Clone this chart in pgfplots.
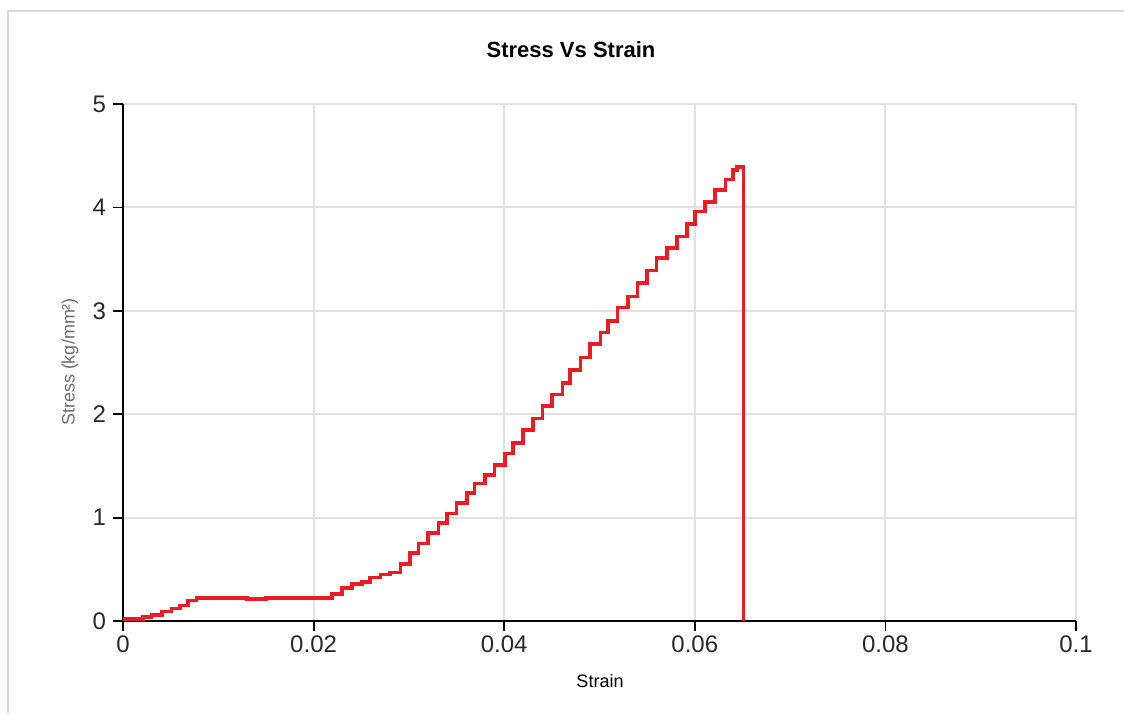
\documentclass[border=0pt]{standalone}
\usepackage{pgfplots}
\pgfplotsset{compat=1.18}
\usepackage{fontspec}
\setmainfont{Liberation Sans}
\definecolor{lineRed}{RGB}{237,28,36}
\definecolor{gridGray}{RGB}{224,224,224}
\definecolor{frameGray}{RGB}{218,218,218}
\definecolor{labelGray}{RGB}{110,110,110}
\definecolor{tickText}{RGB}{40,40,40}
\pgfplotstableread{
x y
0 0.02
0.0021 0.04
0.0030 0.06
0.0041 0.09
0.0051 0.12
0.0060 0.15
0.0068 0.20
0.0077 0.22
0.0100 0.22
0.0130 0.21
0.0150 0.22
0.0180 0.22
0.0200 0.22
0.0219 0.26
0.0230 0.32
0.0240 0.36
0.0251 0.38
0.0259 0.42
0.0270 0.45
0.0280 0.47
0.0291 0.55
0.0301 0.66
0.0310 0.75
0.0320 0.85
0.0331 0.95
0.0340 1.04
0.0350 1.14
0.0361 1.24
0.0369 1.33
0.0380 1.41
0.0390 1.51
0.0401 1.62
0.0409 1.72
0.0420 1.85
0.0430 1.96
0.0440 2.08
0.0450 2.19
0.0461 2.30
0.0469 2.43
0.0480 2.55
0.0490 2.68
0.0501 2.79
0.0509 2.90
0.0519 3.03
0.0530 3.14
0.0540 3.27
0.0550 3.39
0.0560 3.51
0.0571 3.61
0.0581 3.72
0.0592 3.84
0.0600 3.96
0.0611 4.05
0.0621 4.17
0.0632 4.27
0.0640 4.36
0.0644 4.39
0.0651 0
}\stressdata
\begin{document}
\begin{tikzpicture}
\useasboundingbox (0pt,0pt) rectangle (562pt,356.5pt);
\draw[frameGray, line width=1pt] (4pt,0pt) -- (4pt,351pt) -- (562pt,351pt);
\node[font=\fontsize{11}{13}\selectfont\bfseries] at (285.5pt,331.5pt) {Stress Vs Strain};
\node[font=\fontsize{9}{11}\selectfont] at (300pt,16pt) {Strain};
\node[font=\fontsize{9}{11}\selectfont, text=labelGray, rotate=90] at (35pt,175.5pt) {Stress (kg/mm²)};
\begin{axis}[
  at={(61.5pt,46pt)}, anchor=south west,
  scale only axis, width=476.5pt, height=258.5pt,
  xmin=0, xmax=0.1, ymin=0, ymax=5,
  axis x line*=bottom, axis y line*=left,
  axis line style={-, line width=1pt, black},
  xtick={0,0.02,0.04,0.06,0.08,0.1},
  xticklabels={0,0.02,0.04,0.06,0.08,0.1},
  ytick={0,1,2,3,4,5},
  tick align=outside,
  major tick length=5pt,
  tick style={black, line width=0.9pt},
  grid=major,
  major grid style={gridGray, line width=1pt},
  ticklabel style={font=\fontsize{12}{14}\selectfont, text=tickText},
  /pgf/number format/assume math mode=true,
  xticklabel style={yshift=1pt},
  clip=false,
]
\addplot[const plot, lineRed, line width=1.8pt] table[x=x,y=y] {\stressdata};
\end{axis}
\end{tikzpicture}
\end{document}
